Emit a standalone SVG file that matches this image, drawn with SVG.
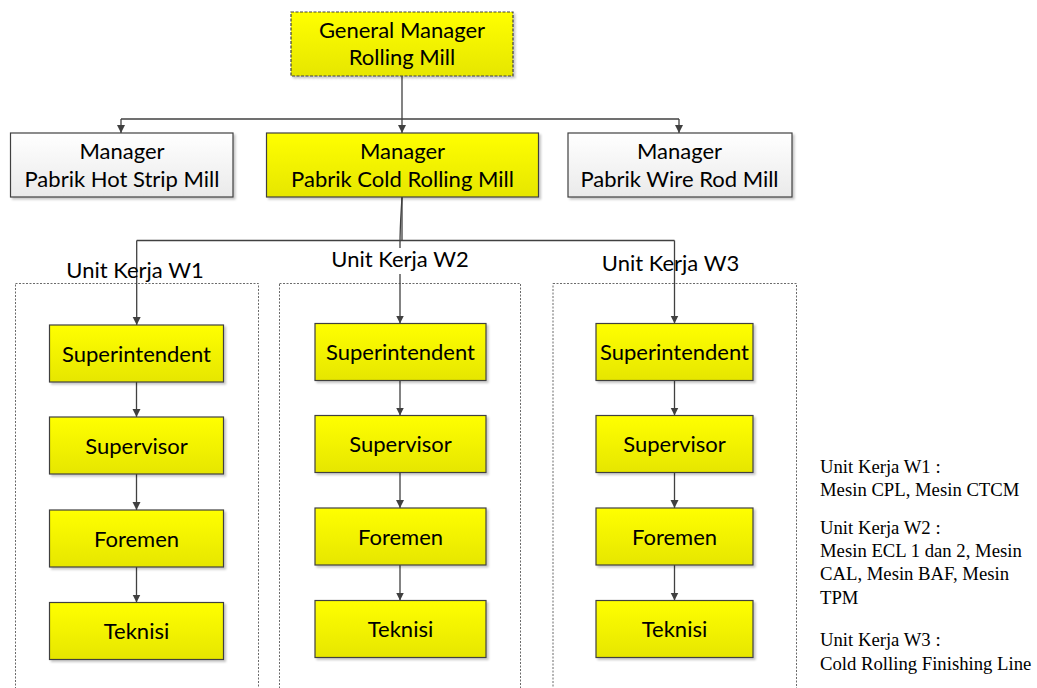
<svg xmlns="http://www.w3.org/2000/svg" width="1037" height="688" viewBox="0 0 1037 688">
<defs>
  <linearGradient id="gy" x1="0" y1="0" x2="0" y2="1">
    <stop offset="0" stop-color="#FFFF00"/>
    <stop offset="1" stop-color="#E6E600"/>
  </linearGradient>
  <linearGradient id="gw" x1="0" y1="0" x2="0" y2="1">
    <stop offset="0" stop-color="#FFFFFF"/>
    <stop offset="1" stop-color="#EAEAEA"/>
  </linearGradient>
  <filter id="sh" x="-10%" y="-10%" width="130%" height="140%">
    <feDropShadow dx="2" dy="2" stdDeviation="1" flood-color="#000" flood-opacity="0.22"/>
  </filter>
  <marker id="arr" markerUnits="userSpaceOnUse" markerWidth="9" markerHeight="9" refX="8" refY="4" orient="auto">
    <path d="M0,0 L8,4 L0,8 z" fill="#404040"/>
  </marker>
</defs>
<style>
  .box{stroke:#404040;stroke-width:1.2;filter:url(#sh)}
  .y{fill:url(#gy)}
  .w{fill:url(#gw)}
  .gm{stroke-dasharray:3 1.5}
  .cont{fill:none;stroke:#6a6a6a;stroke-width:1;stroke-dasharray:2 1.5}
  .t{font-family:Lato,"Liberation Sans",sans-serif;font-size:22px;fill:#000;text-anchor:middle}
  .c{fill:none;stroke:#404040;stroke-width:1.3}
  .note{font-family:"Liberation Serif","Times New Roman",serif;font-size:18.7px;fill:#000}
</style>
<rect width="1037" height="688" fill="#fff"/>

<g id="containers">
  <rect id="cont-w1" class="cont" x="15.5" y="283.5" width="243" height="420"/>
  <rect id="cont-w2" class="cont" x="279.5" y="283.5" width="241" height="420"/>
  <rect id="cont-w3" class="cont" x="553" y="283.5" width="243.5" height="420"/>
</g>

<g id="connectors">
  <path class="c" d="M402,76 V133" marker-end="url(#arr)"/>
  <path class="c" d="M121,119 H679"/>
  <path class="c" d="M121,119 V133" marker-end="url(#arr)"/>
  <path class="c" d="M679,119 V133" marker-end="url(#arr)"/>
  <path class="c" d="M402,197 V240.5"/>
  <path class="c" d="M402,197 C401,215 400,225 400,245"/>
  <path class="c" d="M136.7,240.5 H674.5"/>
  <path class="c" d="M136.7,240.5 V325" marker-end="url(#arr)"/>
  <path class="c" d="M400,245 V323.5" marker-end="url(#arr)"/>
  <path class="c" d="M674.5,240.5 V323.5" marker-end="url(#arr)"/>
  <path class="c" d="M136.5,382 V417" marker-end="url(#arr)"/>
  <path class="c" d="M136.5,474 V510" marker-end="url(#arr)"/>
  <path class="c" d="M136.5,567 V602.5" marker-end="url(#arr)"/>
  <path class="c" d="M400,380.5 V415.5" marker-end="url(#arr)"/>
  <path class="c" d="M400,472.5 V508" marker-end="url(#arr)"/>
  <path class="c" d="M400,565 V600.5" marker-end="url(#arr)"/>
  <path class="c" d="M674.5,380.5 V415.5" marker-end="url(#arr)"/>
  <path class="c" d="M674.5,472.5 V508" marker-end="url(#arr)"/>
  <path class="c" d="M674.5,565 V600.5" marker-end="url(#arr)"/>
</g>

<g id="labels">
  <text class="t" x="135" y="278">Unit Kerja W1</text>
  <rect x="330" y="248" width="140" height="26" fill="#fff"/>
  <text class="t" x="400" y="267">Unit Kerja W2</text>
  <text class="t" x="670.5" y="271">Unit Kerja W3</text>
</g>

<g id="gm">
  <rect class="box y gm" x="291" y="12" width="222" height="64"/>
  <text class="t" x="402" y="37.5">General Manager</text>
  <text class="t" x="402" y="65">Rolling Mill</text>
</g>
<g id="mgr-hsm">
  <rect class="box w" x="10.5" y="133" width="222.5" height="64"/>
  <text class="t" x="122" y="158.5">Manager</text>
  <text class="t" x="122" y="187">Pabrik Hot Strip Mill</text>
</g>
<g id="mgr-crm">
  <rect class="box y" x="266.5" y="133" width="272" height="64"/>
  <text class="t" x="402.5" y="158.5">Manager</text>
  <text class="t" x="402.5" y="187">Pabrik Cold Rolling Mill</text>
</g>
<g id="mgr-wrm">
  <rect class="box w" x="568" y="133" width="224" height="64"/>
  <text class="t" x="679.5" y="158.5">Manager</text>
  <text class="t" x="679.5" y="187">Pabrik Wire Rod Mill</text>
</g>

<g id="w1-sup">
  <rect class="box y" x="49.5" y="325" width="174" height="57"/>
  <text class="t" x="136.5" y="361.5">Superintendent</text>
</g>
<g id="w1-spv">
  <rect class="box y" x="49.5" y="417" width="174" height="57"/>
  <text class="t" x="136.5" y="453.5">Supervisor</text>
</g>
<g id="w1-frm">
  <rect class="box y" x="49.5" y="510" width="174" height="57"/>
  <text class="t" x="136.5" y="546.5">Foremen</text>
</g>
<g id="w1-tek">
  <rect class="box y" x="49.5" y="602.5" width="174" height="57"/>
  <text class="t" x="136.5" y="639">Teknisi</text>
</g>

<g id="w2-sup">
  <rect class="box y" x="315" y="323.5" width="171" height="57"/>
  <text class="t" x="400.5" y="360">Superintendent</text>
</g>
<g id="w2-spv">
  <rect class="box y" x="315" y="415.5" width="171" height="57"/>
  <text class="t" x="400.5" y="452">Supervisor</text>
</g>
<g id="w2-frm">
  <rect class="box y" x="315" y="508" width="171" height="57"/>
  <text class="t" x="400.5" y="544.5">Foremen</text>
</g>
<g id="w2-tek">
  <rect class="box y" x="315" y="600.5" width="171" height="57"/>
  <text class="t" x="400.5" y="637">Teknisi</text>
</g>

<g id="w3-sup">
  <rect class="box y" x="596" y="323.5" width="157" height="57"/>
  <text class="t" x="674.5" y="360">Superintendent</text>
</g>
<g id="w3-spv">
  <rect class="box y" x="596" y="415.5" width="157" height="57"/>
  <text class="t" x="674.5" y="452">Supervisor</text>
</g>
<g id="w3-frm">
  <rect class="box y" x="596" y="508" width="157" height="57"/>
  <text class="t" x="674.5" y="544.5">Foremen</text>
</g>
<g id="w3-tek">
  <rect class="box y" x="596" y="600.5" width="157" height="57"/>
  <text class="t" x="674.5" y="637">Teknisi</text>
</g>

<g id="notes">
  <text class="note" x="820" y="472.5">Unit Kerja W1 :</text>
  <text class="note" x="820" y="495.5">Mesin CPL, Mesin CTCM</text>
  <text class="note" x="820" y="534">Unit Kerja W2 :</text>
  <text class="note" x="820" y="557">Mesin ECL 1 dan 2, Mesin</text>
  <text class="note" x="820" y="580">CAL, Mesin BAF, Mesin</text>
  <text class="note" x="820" y="603.5">TPM</text>
  <text class="note" x="820" y="646">Unit Kerja W3 :</text>
  <text class="note" x="820" y="669.5">Cold Rolling Finishing Line</text>
</g>
</svg>
